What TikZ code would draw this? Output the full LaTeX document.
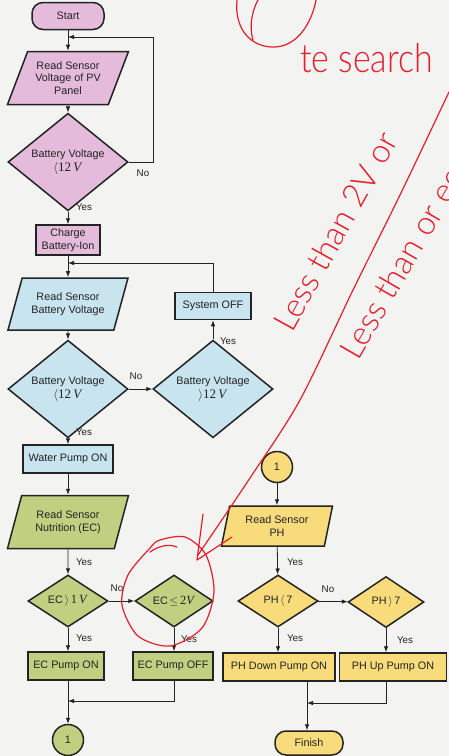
\documentclass[tikz,border=0pt]{standalone}
\usepackage{fontspec}
\setmainfont{Liberation Sans}
\newfontfamily\serifnum{Liberation Serif}
\newfontfamily\handfont{Lato}[UprightFont={* Light}]
\usetikzlibrary{shapes.geometric,arrows.meta,calc}

\definecolor{pinkfill}{RGB}{229,187,220}
\definecolor{bluefill}{RGB}{200,228,238}
\definecolor{greenfill}{RGB}{192,208,128}
\definecolor{yellowfill}{RGB}{248,220,124}
\definecolor{ink}{RGB}{35,35,35}
\definecolor{paper}{RGB}{243,243,241}
\definecolor{pen}{RGB}{228,30,45}

\tikzset{
  txt/.style={font=\fontsize{10.8}{12.5}\selectfont, text=ink, align=center},
  box/.style={txt, draw=ink, line width=1.5pt, rectangle, inner sep=1pt},
  term/.style={box, rounded corners=11pt},
  io/.style={txt, trapezium, trapezium left angle=60, trapezium right angle=120,
    trapezium stretches body, draw=ink, line width=1.5pt, inner sep=1pt},
  decision/.style={txt, diamond, draw=ink, line width=1.5pt, inner sep=0pt},
  conn/.style={txt, circle, draw=ink, line width=1.5pt, minimum size=31pt, inner sep=0pt},
  flow/.style={draw=ink, line width=0.8pt, -{Latex[length=6pt,width=4.5pt]}},
  lbl/.style={font=\fontsize{9.8}{11}\selectfont, text=ink},
  redpen/.style={draw=pen, line width=1.2pt, line cap=round, line join=round},
  handtext/.style={text=pen, font=\handfont\fontsize{33}{33}\selectfont, inner sep=0pt}
}

\begin{document}
\begin{tikzpicture}[x=1pt, y=-1pt]
\fill[paper] (0,0) rectangle (449,756);
\useasboundingbox (0,0) rectangle (449,756);

% ---------- solar charging stage ----------
\node[term, fill=pinkfill, minimum width=72pt, minimum height=27pt] (start) at (68,16) {Start};
\node[io, fill=pinkfill, minimum width=121pt, minimum height=53pt] (readpv) at (68,78) {Read Sensor\\Voltage of PV\\Panel};
\node[decision, fill=pinkfill, minimum width=120pt, minimum height=70pt] (dpv) at (68,162)
  {Battery Voltage\\[1pt]{\serifnum\fontsize{13}{13}\selectfont$\langle$12\,\textit{V}}};
\node[box, fill=pinkfill, minimum width=64pt, minimum height=30pt] (charge) at (68,240) {Charge\\Battery-Ion};

\coordinate (jpv) at (68,37);
\coordinate (looppv) at (153,37);
\draw[flow] (start) -- (readpv);
\draw[flow] (readpv) -- (dpv);
\draw[flow] (dpv) -- (charge);
\draw[flow] (dpv.east) -| (looppv) -- (jpv);
\node[lbl] at (143,173) {No};
\node[lbl] at (84,207) {Yes};

% ---------- battery check stage ----------
\node[io, fill=bluefill, minimum width=120pt, minimum height=52pt] (readbat) at (68,304) {Read Sensor\\Battery Voltage};
\node[decision, fill=bluefill, minimum width=120pt, minimum height=71pt] (dlow) at (68,389)
  {Battery Voltage\\[1pt]{\serifnum\fontsize{13}{13}\selectfont$\langle$12\,\textit{V}}};
\node[decision, fill=bluefill, minimum width=120pt, minimum height=72pt] (dhigh) at (213,389)
  {Battery Voltage\\[1pt]{\serifnum\fontsize{13}{13}\selectfont$\rangle$12\,\textit{V}}};
\node[box, fill=bluefill, minimum width=76pt, minimum height=27pt] (off) at (213,306) {System OFF};
\node[box, fill=bluefill, minimum width=90pt, minimum height=28pt] (water) at (68,459) {Water Pump ON};

\coordinate (jbat) at (68,263);
\draw[flow] (charge) -- (readbat);
\draw[flow] (readbat) -- (dlow);
\draw[flow] (dlow) -- (dhigh);
\draw[flow] (dhigh) -- (off);
\draw[flow] (off.north) |- (jbat);
\draw[flow] (dlow) -- (water);
\node[lbl] at (136,376) {No};
\node[lbl] at (228,341) {Yes};
\node[lbl] at (84,432) {Yes};

% ---------- nutrition stage ----------
\node[io, fill=greenfill, minimum width=121pt, minimum height=53pt] (readec) at (68,522) {Read Sensor\\Nutrition (EC)};
\node[decision, fill=greenfill, minimum width=80pt, minimum height=52pt] (ec1) at (68,601)
  {EC\,$\rangle$\,{\serifnum\fontsize{12.5}{13}\selectfont 1\,\textit{V}}};
\node[decision, fill=greenfill, minimum width=78pt, minimum height=51pt] (ec2) at (174,601)
  {EC\,$\leq$\,{\serifnum\fontsize{12.5}{13}\selectfont 2\textit{V}}};
\node[box, fill=greenfill, minimum width=76pt, minimum height=28pt] (econ) at (66,666) {EC Pump ON};
\node[box, fill=greenfill, minimum width=80pt, minimum height=28pt] (ecoff) at (173,666) {EC Pump OFF};
\node[conn, fill=greenfill] (c1a) at (68,740) {1};

\coordinate (jec) at (68,701);
\draw[flow] (water) -- (readec);
\draw[flow] (readec) -- (ec1);
\draw[flow] (ec1) -- (ec2);
\draw[flow] (ec1.south) -- (ec1.south |- econ.north);
\draw[flow] (ec2.south) -- (ec2.south |- ecoff.north);
\draw[flow] (ec2.south |- ecoff.south) |- (jec);
\draw[flow] (ec1.south |- econ.south) -- (c1a.north);
\node[lbl] at (84,562) {Yes};
\node[lbl] at (117,588) {No};
\node[lbl] at (84,638) {Yes};
\node[lbl] at (189,639) {Yes};

% ---------- pH stage ----------
\node[conn, fill=yellowfill] (c1b) at (277,467) {1};
\node[io, trapezium left angle=70, trapezium right angle=110, fill=yellowfill,
  minimum width=111pt, minimum height=40pt] (readph) at (277,526) {Read Sensor\\PH};
\node[decision, fill=yellowfill, minimum width=80pt, minimum height=52pt] (ph1) at (278,601) {PH\,$\langle$\,7};
\node[decision, fill=yellowfill, minimum width=76pt, minimum height=51pt] (ph2) at (386,602) {PH\,$\rangle$\,7};
\node[box, fill=yellowfill, minimum width=112pt, minimum height=28pt] (phdown) at (279,667) {PH Down Pump ON};
\node[box, fill=yellowfill, minimum width=107pt, minimum height=28pt] (phup) at (393,667) {PH Up Pump ON};
\node[term, fill=yellowfill, minimum width=68pt, minimum height=24pt] (finish) at (309,743) {Finish};

\coordinate (jph) at (307,703);
\draw[flow] (c1b) -- (readph);
\draw[flow] (readph) -- (ph1);
\draw[flow] (ph1) -- (ph2);
\draw[flow] (ph1.south) -- (ph1.south |- phdown.north);
\draw[flow] (ph2.south) -- (ph2.south |- phup.north);
\draw[flow] (ph2.south |- phup.south) |- (jph);
\draw[flow] (jph |- phdown.south) -- (jph |- finish.north);
\node[lbl] at (295,562) {Yes};
\node[lbl] at (328,589) {No};
\node[lbl] at (295,638) {Yes};
\node[lbl] at (405,640) {Yes};

% ---------- red pen notes ----------
\begin{scope}
\clip (0,0) rectangle (449,756);
\draw[redpen] (237,0) .. controls (234,30) and (252,48) .. (275,47) .. controls (298,46) and (312,22) .. (316,0);
\draw[redpen] (258,0) .. controls (250,15) and (250,30) .. (253,40);
\node[handtext, font=\handfont\fontsize{40}{40}\selectfont, anchor=base west, xscale=0.85] (note1) at (300,72) {te search};
\draw[redpen] plot[smooth] coordinates {(449,92) (400,195) (353,290) (300,400) (250,478) (198,555)};
\draw[redpen] (203,514) -- (197,560) -- (232,537);
\node[handtext, rotate=61, anchor=base west] (note2) at (292,334) {Less than 2V or};
\node[handtext, rotate=60, anchor=base west] (note3) at (358,362) {Less than or equal};
\draw[redpen] plot[smooth cycle] coordinates {(150,548) (128,575) (122,605) (138,636) (170,646) (202,628) (214,592) (206,555) (185,537) (160,540)};
\draw[redpen] (150,552) .. controls (160,545) and (170,544) .. (177,547);
\end{scope}
\end{tikzpicture}
\end{document}
